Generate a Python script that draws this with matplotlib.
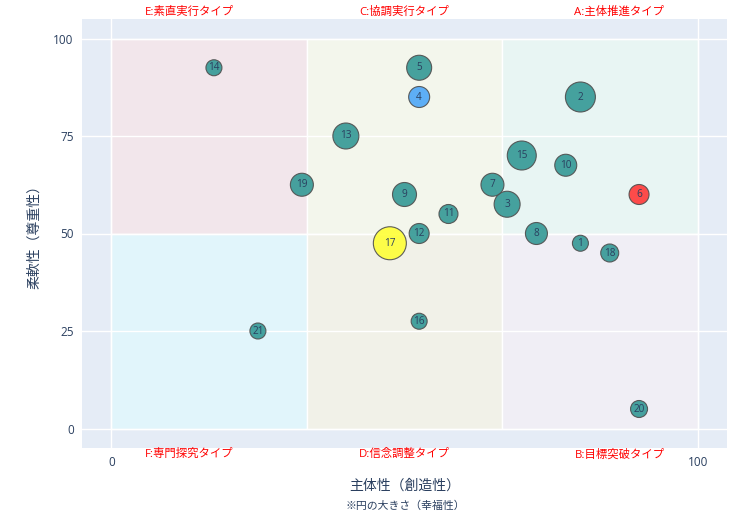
### Bubble chart: 主体性 x 柔軟性, bubble size = 幸福性
import matplotlib
matplotlib.use('Agg')
import matplotlib.pyplot as plt
from matplotlib.patches import Rectangle

plt.rcParams['font.family'] = ['Open Sans', 'Noto Sans CJK JP', 'DejaVu Sans']

### data
ids = [1, 2, 3, 4, 5, 6, 7, 8, 9, 10, 11, 12, 13, 14, 15, 16, 17, 18, 19, 20, 21]
shutai = [80, 80, 67.5, 52.5, 52.5, 90, 65, 72.5, 50, 77.5, 57.5, 52.5, 40, 17.5, 70, 52.5, 47.5, 85, 32.5, 90, 25]
junan = [47.5, 85, 57.5, 85, 92.5, 60, 62.5, 50, 60, 67.5, 55, 50, 75, 92.5, 70, 27.5, 47.5, 45, 62.5, 5, 25]
koufuku = [16, 30, 26, 21, 25, 20, 23, 22, 24, 22, 19, 20, 26, 16, 29, 16, 33, 18, 23, 17, 16]
highlight = {4: '#50a8f7', 6: '#ff3c3c', 17: '#ffff3a'}

quad_x = [0, 33.33, 66.67]
quad_y = [0, 50]
quad_colors = {(0, 1): '#f2e6eb', (1, 1): '#f3f6ec', (2, 1): '#e8f5f3',
               (0, 0): '#e1f5fb', (1, 0): '#f1f1e8', (2, 0): '#f0eef5'}
top_labels = ['E:素直実行タイプ', 'C:協調実行タイプ', 'A:主体推進タイプ']
bottom_labels = ['F:専門探究タイプ', 'D:信念調整タイプ', 'B:目標突破タイプ']

text_color = '#2a3f5f'

fig = plt.figure(figsize=(7.55, 5.30), dpi=100)
ax = fig.add_axes([82/755, 1 - 448/530, 645/755, 429/530])
ax.set_facecolor('#e5ecf6')
ax.set_xlim(-5, 105)
ax.set_ylim(-5, 105)

# quadrant backgrounds
for (i, j), c in quad_colors.items():
  ax.add_patch(Rectangle((quad_x[i], quad_y[j]), 33.33, 50, facecolor=c,
                         edgecolor='white', linewidth=1, zorder=0.5))

# grid
ax.set_xticks([0, 100])
ax.set_yticks([0, 25, 50, 75, 100])
ax.grid(True, color='white', linewidth=1)
ax.set_axisbelow(False)
for gl in ax.get_xgridlines() + ax.get_ygridlines():
  gl.set_zorder(1)
for s in ax.spines.values():
  s.set_visible(False)
ax.tick_params(length=0, colors=text_color, labelsize=8.5, pad=6)

# bubbles
cols = [highlight.get(i, '#379a97') for i in ids]
sizes = [(d * 0.72) ** 2 for d in koufuku]
ax.scatter(shutai, junan, s=sizes, c=cols, edgecolors='#505050', linewidths=0.8,
           alpha=0.92, zorder=3)
for i, x, y in zip(ids, shutai, junan):
  ax.text(x, y, str(i), ha='center', va='center', fontsize=7.2, color=text_color, zorder=4)

# type labels
for k, lab in enumerate(top_labels):
  ax.text((2*k + 1) / 6, 1.002, lab, transform=ax.transAxes, ha='center', va='bottom',
          fontsize=8.2, color='red')
for k, lab in enumerate(bottom_labels):
  ax.text((2*k + 1) / 6, -0.003, lab, transform=ax.transAxes, ha='center', va='top',
          fontsize=8.2, color='red')

ax.set_ylabel('柔軟性（尊重性）', fontsize=10, color=text_color, labelpad=8)
fig.text(405/755, 1 - 486/530, '主体性（創造性）', ha='center', va='center',
         fontsize=10, color=text_color)
fig.text(405/755, 1 - 506/530, '※円の大きさ（幸福性）', ha='center', va='center',
         fontsize=7.8, color=text_color)

plt.savefig('out.png', dpi=100)
